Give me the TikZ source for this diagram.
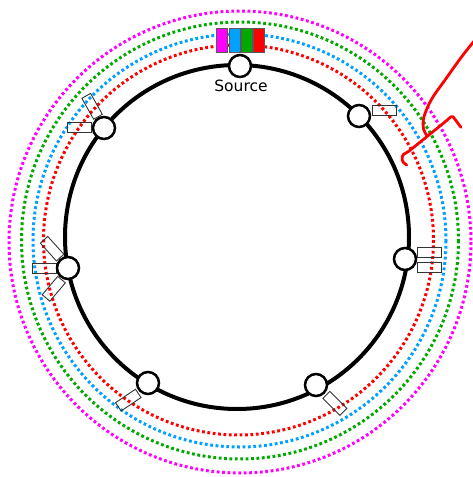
\documentclass[tikz,border=0pt]{standalone}
\usepackage{fontspec}
\setmainfont{DejaVu Sans}
\begin{document}
\begin{tikzpicture}[x={(1pt,0)},y={(0,-1pt)},
  ringline/.style={line width=4pt},
  dotring/.style={line width=3pt,dash pattern=on 2.8pt off 2.6pt},
  station/.style={circle,draw=black,line width=2.5pt,fill=white,minimum size=22pt,inner sep=0pt},
  pbox/.style={draw=black!80,line width=0.9pt,minimum width=24pt,minimum height=10pt,inner sep=0pt},
  cbox/.style={draw=black!65,line width=0.9pt,minimum width=11pt,minimum height=24pt,inner sep=0pt},
  scribble/.style={draw=red,line width=2.8pt,line join=round,line cap=round}]
\definecolor{mag}{RGB}{255,0,255}
\definecolor{lblue}{RGB}{0,160,255}
\definecolor{dgreen}{RGB}{0,168,0}
\useasboundingbox (0,0) rectangle (472,477);
% dotted rings
\draw[dotring,mag] (240,242) circle[radius=231];
\draw[dotring,dgreen] (240,240.5) circle[radius=218.5];
\draw[dotring,lblue] (239.5,240.5) circle[radius=206.5];
\draw[dotring,red] (238.5,240) circle[radius=195];
% main ring
\draw[ringline] (237,237) circle[radius=172];
% small boxes at stations
\node[pbox] (b1) at (384,110.4) {};
\node[pbox] (b2a) at (429.5,252.7) {};
\node[pbox] (b2b) at (429.5,267) {};
\node[pbox,rotate=-44.9] (b3) at (334.9,403.4) {};
\node[pbox,rotate=34] (b4) at (128.3,400.1) {};
\node[pbox] (b5a) at (44.5,268.5) {};
\node[pbox,rotate=-48] (b5b) at (52.1,248.7) {};
\node[pbox,rotate=49.8] (b5c) at (53.8,288.8) {};
\node[pbox] (b6a) at (79.5,127) {};
\node[pbox,rotate=-60.7] (b6b) at (92.1,106.3) {};
% stations
\node[station] (src) at (240,66) {};
\node[station] (n1) at (359,116) {};
\node[station] (n2) at (405,259) {};
\node[station] (n3) at (316,385) {};
\node[station] (n4) at (148,383) {};
\node[station] (n5) at (68,268) {};
\node[station] (n6) at (104,128) {};
\node[font=\fontsize{15.5}{18}\selectfont,anchor=base] (lbl) at (241,91) {Source};
% colour boxes at source
\node[cbox,fill=mag] (cb1) at (222.3,40.5) {};
\node[cbox,fill=lblue] (cb2) at (234.5,40.5) {};
\node[cbox,fill=dgreen] (cb3) at (246.9,40.5) {};
\node[cbox,fill=red] (cb4) at (258.7,40.5) {};
% red scribble
\draw[scribble] plot[smooth,tension=0.6] coordinates {(475,40) (461.7,56.7) (445,80) (431.7,99) (424,116.7) (423.5,129) (426.7,135)};
\draw[scribble,rounded corners=1.5pt] (461,127.3) -- (452.3,115.7) -- (443.3,123.3) -- (408.3,151.7) -- (402.3,155) -- (402.3,161.7) -- (406.7,165);
\end{tikzpicture}
\end{document}
